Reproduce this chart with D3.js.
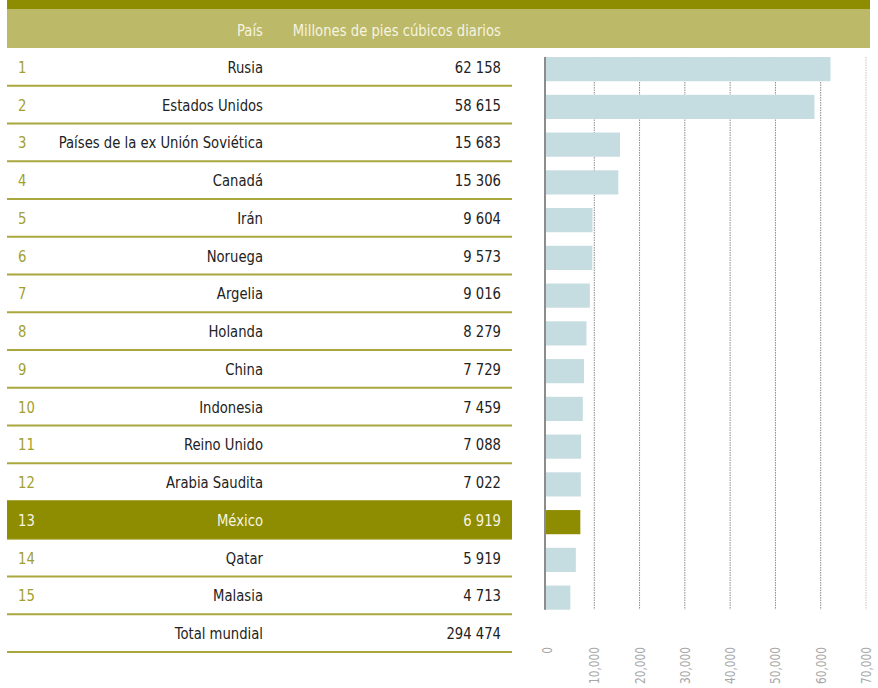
<!DOCTYPE html>
<html>
<head>
<meta charset="utf-8">
<script src="https://d3js.org/d3.v7.min.js"></script>
<style>
  body { margin: 0; background: #fff; }
  svg text { font-family: "DejaVu Sans Condensed", "Liberation Sans Narrow", "Roboto", sans-serif; }
</style>
</head>
<body>
<div id="chart"></div>
<script>
// data
const ranks = ["1","2","3","4","5","6","7","8","9","10","11","12","13","14","15"];
const countries = ["Rusia","Estados Unidos","Países de la ex Unión Soviética","Canadá","Irán",
  "Noruega","Argelia","Holanda","China","Indonesia","Reino Unido","Arabia Saudita",
  "México","Qatar","Malasia"];
const values = [62158, 58615, 15683, 15306, 9604, 9573, 9016, 8279, 7729, 7459, 7088, 7022, 6919, 5919, 4713];
const totalLabel = "Total mundial";
const totalValue = 294474;
const headers = ["País", "Millones de pies cúbicos diarios"];
const xTicks = [0, 10000, 20000, 30000, 40000, 50000, 60000, 70000];
const highlight = "México";

const W = 878, H = 688;
const dark = "#8e8c00", light = "#bcb968", lineCol = "#aaa73e", barCol = "#c5dce0";
const squeeze = 0.89; // condensed look

const fmtSpace = d => d3.format(",")(d).replace(/,/g, " ");

const svg = d3.select("#chart").append("svg")
  .attr("width", W).attr("height", H);

// header bands
svg.append("rect").attr("x", 7).attr("y", 0).attr("width", 863).attr("height", 9).attr("fill", dark);
svg.append("rect").attr("x", 7).attr("y", 9).attr("width", 863).attr("height", 39).attr("fill", light);

const tableLeft = 7, tableRight = 512, nameRight = 263, valRight = 501, rankX = 18;

svg.selectAll(".hdr").data(headers).enter().append("text")
  .attr("class", "hdr")
  .attr("transform", (d, i) => `translate(${i === 0 ? nameRight : valRight},36) scale(${squeeze},1)`)
  .attr("text-anchor", "end")
  .attr("font-size", 16.5).attr("fill", "#f6f4e0").text(d => d);

// rows (15 countries + total)
const rowKeys = countries.concat([totalLabel]);
const y = d3.scaleBand().domain(rowKeys).range([48, 48 + 16 * 37.75]).padding(0);
const step = y.step();

const rows = rowKeys.map((c, i) => ({
  rank: i < ranks.length ? ranks[i] : "",
  name: c,
  value: i < values.length ? values[i] : totalValue
}));

// separator lines
svg.selectAll(".sep").data(rows).enter().append("line")
  .attr("class", "sep")
  .attr("x1", tableLeft).attr("x2", tableRight)
  .attr("y1", d => y(d.name) + step).attr("y2", d => y(d.name) + step)
  .attr("stroke", lineCol).attr("stroke-width", 2);

// highlight row
svg.append("rect")
  .attr("x", tableLeft).attr("width", tableRight - tableLeft)
  .attr("y", y(highlight)).attr("height", step)
  .attr("fill", dark);

const rowG = svg.selectAll(".row").data(rows).enter().append("g")
  .attr("class", "row")
  .attr("transform", d => `translate(0,${y(d.name) + step / 2 + 6})`);

const txtCol = d => d.name === highlight ? "#f6f4e0" : "#222";

rowG.append("text").attr("transform", `translate(${rankX},0) scale(${squeeze},1)`)
  .attr("font-size", 16.5)
  .attr("fill", d => d.name === highlight ? "#f6f4e0" : "#a29f2e")
  .text(d => d.rank);
rowG.append("text").attr("transform", `translate(${nameRight},0) scale(${squeeze},1)`)
  .attr("text-anchor", "end").attr("font-size", 16.5)
  .attr("fill", txtCol)
  .text(d => d.name);
rowG.append("text").attr("transform", `translate(${valRight},0) scale(${squeeze},1)`)
  .attr("text-anchor", "end").attr("font-size", 16.5)
  .attr("fill", txtCol)
  .text(d => fmtSpace(d.value));

// bar chart
const axisX = 545;
const x = d3.scaleLinear().domain([0, 70000]).range([549, 866]);
const barTop = y(countries[0]) + step * 0.24;
const barBottom = y(countries[countries.length - 1]) + step * 0.88;

// gridlines
svg.selectAll(".grid").data(xTicks.slice(1)).enter().append("line")
  .attr("class", "grid")
  .attr("x1", d => x(d)).attr("x2", d => x(d))
  .attr("y1", barTop).attr("y2", barBottom)
  .attr("stroke", d => d === 70000 ? "#c4c4c4" : "#8a8a8a")
  .attr("stroke-width", 1)
  .attr("stroke-dasharray", "1.5,1");

svg.selectAll(".bar").data(rows.slice(0, countries.length)).enter().append("rect")
  .attr("class", "bar")
  .attr("x", axisX)
  .attr("y", d => y(d.name) + step * 0.24)
  .attr("width", d => x(d.value) - axisX)
  .attr("height", step * 0.64)
  .attr("fill", d => d.name === highlight ? dark : barCol);

// vertical axis line
svg.append("line").attr("x1", axisX).attr("x2", axisX)
  .attr("y1", barTop).attr("y2", barBottom)
  .attr("stroke", "#8c8c8c").attr("stroke-width", 2);

// tick labels (rotated, read bottom to top)
svg.selectAll(".tick-label").data(xTicks).enter().append("text")
  .attr("class", "tick-label")
  .attr("transform", d => `translate(${(d === 0 ? axisX + 2 : x(d)) + 5},647) rotate(-90) scale(0.84,1)`)
  .attr("text-anchor", "end")
  .attr("font-size", 14)
  .attr("fill", "#a8a8a8")
  .text(d => d3.format(",")(d));
</script>
</body>
</html>
